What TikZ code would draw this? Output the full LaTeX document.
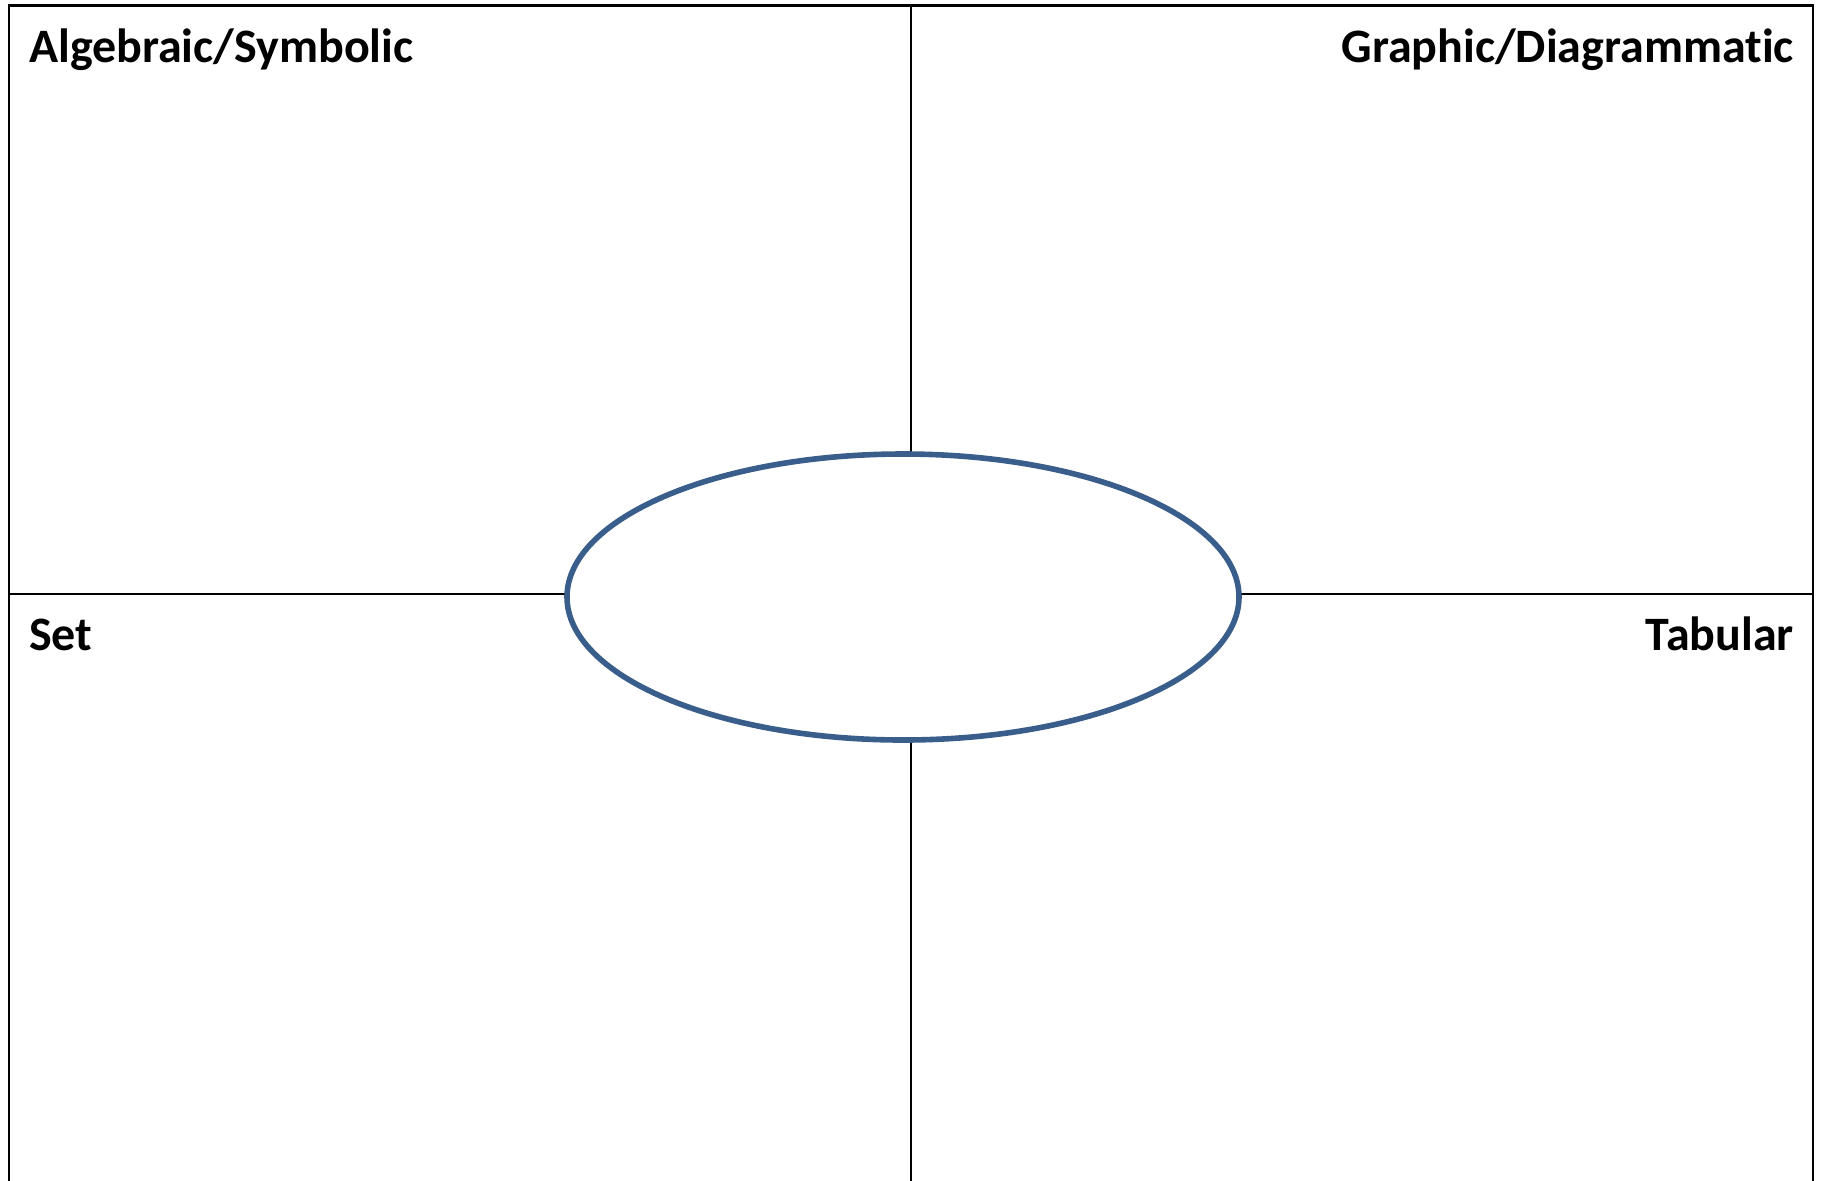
\documentclass[tikz,border=0pt]{standalone}
\usepackage{fontspec}
\setmainfont{Carlito}[Ligatures=NoCommon]
\usetikzlibrary{shapes.geometric}
\definecolor{hubblue}{RGB}{58,94,140}

\begin{document}
\begin{tikzpicture}[x=0.5pt, y=-0.5pt, line width=1.15pt,
    label/.style={inner sep=0pt, font=\fontsize{24}{28}\selectfont\bfseries},
    hub/.style={ellipse, draw=hubblue, line width=2.8pt, fill=white, inner sep=0pt,
        minimum width=336pt, minimum height=143pt}]
    \useasboundingbox (0,0) rectangle (1822,1180);
    \coordinate (tl) at (9,5.5);
    \coordinate (tr) at (1813,5.5);
    \coordinate (bl) at (9,1200);
    \coordinate (br) at (1813,1200);
    \coordinate (top) at (911,5.5);
    \coordinate (bot) at (911,1200);
    \coordinate (lft) at (9,594);
    \coordinate (rgt) at (1813,594);
        \draw (bl) -- (tl) -- (tr) -- (br);
        \draw (top) -- (bot);
        \draw (lft) -- (rgt);
    \node[hub] (c) at (903,597) {};
    \node[label, anchor=base west] (alg) at (28,62.5) {Algebraic/Symbolic};
    \node[label, anchor=base east] (gra) at (1795,62.5) {Graphic/Diagrammatic};
    \node[label, anchor=base west] (set) at (28,650.5) {Set};
    \node[label, anchor=base east] (tab) at (1795,650.5) {Tabular};
\end{tikzpicture}
\end{document}
